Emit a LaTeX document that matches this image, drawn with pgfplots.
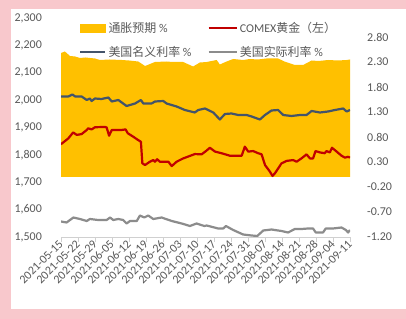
\documentclass[border=0pt]{standalone}
\usepackage{pgfplots}
\pgfplotsset{compat=1.18}
\usepackage{fontspec}
\setmainfont{Carlito}
\newfontfamily\cjk{Noto Sans CJK SC}
\definecolor{pinkbg}{HTML}{F8C8CC}
\definecolor{goldc}{HTML}{FFC000}
\definecolor{redc}{HTML}{C00000}
\definecolor{bluec}{HTML}{44546A}
\definecolor{greyc}{HTML}{8C8C8C}
\definecolor{txt}{HTML}{595959}
\definecolor{axc}{HTML}{D0D0D0}
\newcommand\fs{\fontsize{12}{14}\selectfont}
\begin{document}
\begin{tikzpicture}
\fill[pinkbg] (0bp,0bp) rectangle (406bp,319bp);
\fill[white] (11bp,10bp) rectangle (406bp,310bp);
% right axis: rates
\begin{axis}[
  at={(61bp,82bp)}, anchor=south west,
  width=289bp, height=219bp, scale only axis,
  xmin=0, xmax=119, ymin=-1.2, ymax=3.18,
  axis x line=none,
  axis y line*=right,
  y axis line style={draw=none},
  ytick={-1.2,-0.7,-0.2,0.3,0.8,1.3,1.8,2.3,2.8},
  yticklabels={-1.20,-0.70,-0.20,0.30,0.80,1.30,1.80,2.30,2.80},
  major tick length=0pt,
  ytick style={draw=none},
  yticklabel style={anchor=west, inner sep=0pt, xshift=17bp, font=\fs, text=txt},
]
\addplot[fill=goldc, draw=none] coordinates {
(0,0) (0,2.48) (1.6,2.51) (3.7,2.42) (5.8,2.41) (7.8,2.38) (10,2.39) (14,2.37) (16,2.34)
(20,2.35) (25,2.34) (28,2.33) (31.8,2.31) (34.6,2.22) (38.7,2.30) (43.5,2.31) (46,2.30)
(50.3,2.30) (54.4,2.21) (57.2,2.29) (60,2.30) (64.1,2.34) (65.4,2.25) (68.2,2.31)
(70.9,2.36) (75,2.34) (77.8,2.36) (81,2.35) (84.6,2.37) (89.4,2.37) (92,2.31) (96.3,2.24)
(99.7,2.24) (103.2,2.33) (106,2.32) (110,2.34) (114,2.33) (117.6,2.34) (119,2.35) (119,0)
} -- cycle;
\addplot[draw=bluec, line width=2.2bp, line join=round] coordinates {
(0,1.61) (3,1.61) (4.7,1.65) (5.8,1.61) (8.5,1.61) (10.6,1.54) (11.9,1.57) (12.6,1.52)
(14,1.57) (16.7,1.56) (19.5,1.59) (20.9,1.51) (23.6,1.54) (27,1.42) (30.5,1.47)
(32.9,1.54) (33.9,1.47) (37.3,1.47) (38.7,1.51) (42.1,1.52) (43.5,1.47) (47.6,1.41)
(51,1.34) (55.1,1.29) (56.5,1.34) (59.3,1.37) (62.7,1.29) (65.4,1.15) (67.5,1.26)
(70.2,1.27) (73,1.24) (76.4,1.24) (78.5,1.21) (81.9,1.15) (84,1.24) (86.7,1.33)
(89.4,1.34) (91.5,1.24) (94.9,1.22) (98.4,1.24) (101.1,1.24) (103.2,1.32) (106.6,1.29)
(110,1.31) (112.8,1.34) (116.2,1.37) (117.6,1.31) (119,1.34)
};
\addplot[draw=greyc, line width=2.2bp, line join=round] coordinates {
(0,-0.89) (2.3,-0.91) (5.1,-0.81) (7.8,-0.84) (10.6,-0.88) (11.9,-0.84) (15.3,-0.86)
(18.8,-0.86) (20.2,-0.81) (21.5,-0.86) (23.6,-0.84) (25.6,-0.86) (27,-0.93) (28.4,-0.88)
(31.2,-0.88) (32.5,-0.77) (34.3,-0.81) (35.9,-0.77) (38,-0.84) (41.4,-0.81) (45.6,-0.88)
(49.7,-0.93) (53.1,-0.98) (55.8,-0.93) (59,-0.98) (60,-0.97) (64.7,-1.03) (66.8,-1.03)
(67.9,-0.98) (70.9,-1.06) (75,-1.15) (78.5,-1.17) (80.8,-1.18) (83.3,-1.07) (86.7,-1.05)
(89.4,-1.07) (90.8,-1.08) (93.5,-1.11) (96.3,-1.04) (99,-1.04) (101.7,-1.03) (103.8,-1.03)
(104.9,-1.11) (107.9,-1.11) (109,-1.03) (112,-1.03) (115.5,-1.01) (117.3,-1.06)
(118.2,-1.11) (119,-1.06)
};
\end{axis}
% left axis: gold
\begin{axis}[
  at={(61bp,82bp)}, anchor=south west,
  width=289bp, height=219bp, scale only axis,
  xmin=0, xmax=119, ymin=1500, ymax=2300,
  axis y line*=left, axis x line*=bottom,
  y axis line style={draw=none},
  x axis line style={-, draw=axc, line width=0.8bp},
  ytick={1500,1600,1700,1800,1900,2000,2100,2200,2300},
  yticklabels={{1,500},{1,600},{1,700},{1,800},{1,900},{2,000},{2,100},{2,200},{2,300}},
  ytick style={draw=none},
  xtick={0,7,...,119},
  xticklabels={2021-05-15,2021-05-22,2021-05-29,2021-06-05,2021-06-12,2021-06-19,2021-06-26,2021-07-03,2021-07-10,2021-07-17,2021-07-24,2021-07-31,2021-08-07,2021-08-14,2021-08-21,2021-08-28,2021-09-04,2021-09-11},
  tick align=outside,
  x tick style={draw=axc, line width=0.8bp},
  major tick length=5bp,
  xticklabel style={rotate=45, anchor=east, inner sep=0pt, font=\fs, text=txt},
  yticklabel style={anchor=east, inner sep=0pt, xshift=-14bp, font=\fs, text=txt},
  legend columns=2,
  legend cell align=left,
  legend style={draw=none, fill=none, at={(0.062,0.99)}, anchor=north west,
    font=\fs, text=txt, inner sep=0pt, row sep=8bp,
    /tikz/every even column/.append style={column sep=14bp}},
]
\addlegendimage{legend image code/.code={\fill[goldc] (0bp,-4bp) rectangle (25bp,4bp);}}
\addlegendentry{{\cjk 通胀预期} \%}
\addplot[draw=redc, line width=2.2bp, line join=round,
  legend image code/.code={\draw[redc, line width=2.4bp] (0bp,0bp) -- (28bp,0bp);}] coordinates {
(0,1839) (3,1860) (5,1882) (6.5,1873) (8.5,1876) (10.6,1891) (11.2,1897) (12.6,1893)
(14,1901) (18.1,1902) (18.8,1900) (19.8,1870) (20.9,1891) (23.6,1891) (25,1891)
(26.6,1893) (27.5,1879) (29.8,1866) (31.8,1854) (32.9,1848) (33.5,1769) (34.6,1763)
(36.6,1775) (38,1781) (38.7,1775) (39.6,1784) (40.7,1775) (44.2,1775) (45.6,1759)
(47.6,1775) (50.3,1787) (55.1,1803) (57.9,1802) (59.7,1814) (61.3,1826) (63.4,1812)
(66.1,1806) (69.5,1797) (74.4,1797) (75.7,1830) (77.1,1812) (79.1,1814) (81.2,1806)
(82.6,1802) (84,1763) (86,1739) (87.1,1723) (88.1,1733) (90.8,1769) (92.9,1778)
(95.6,1781) (97,1775) (99,1787) (101.1,1802) (102.5,1787) (103.8,1787) (104.8,1814)
(106.6,1809) (108.6,1806) (109.3,1814) (110.7,1809) (111.6,1826) (113.5,1812)
(115.5,1797) (116.9,1790) (118.2,1793) (119,1790)
};
\addlegendentry{COMEX{\cjk 黄金（左）}}
\addlegendimage{legend image code/.code={\draw[bluec, line width=2.4bp] (0bp,0bp) -- (25bp,0bp);}}
\addlegendentry{{\cjk 美国名义利率} \%}
\addlegendimage{legend image code/.code={\draw[greyc, line width=2.4bp] (0bp,0bp) -- (28bp,0bp);}}
\addlegendentry{{\cjk 美国实际利率} \%}
\end{axis}
\pgfresetboundingbox
\useasboundingbox (0bp,0bp) rectangle (406bp,319bp);
\end{tikzpicture}
\end{document}
